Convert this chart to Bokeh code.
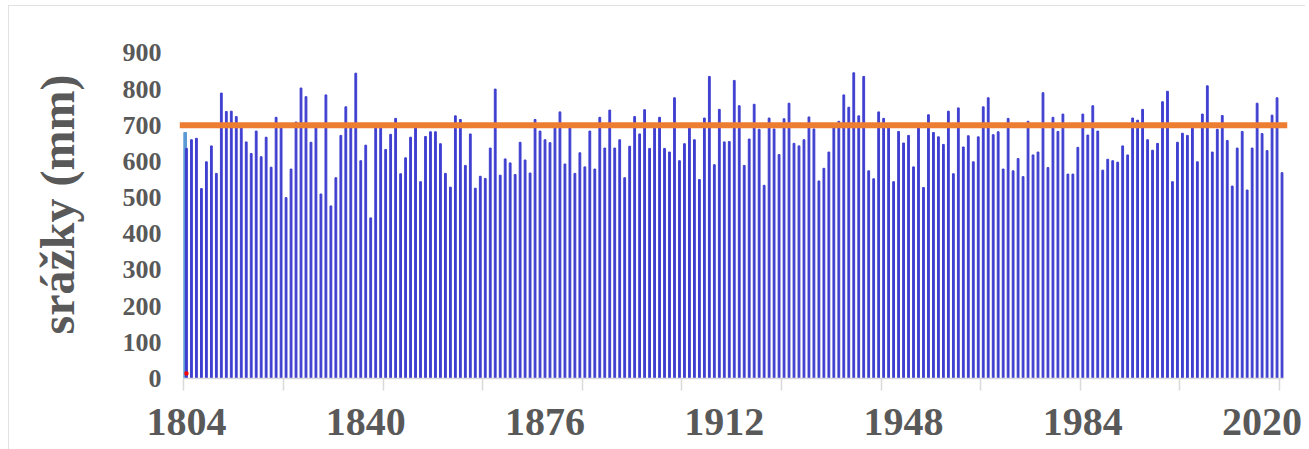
from bokeh.plotting import figure
from bokeh.models import Range1d, FixedTicker, Span, ColumnDataSource
from bokeh.embed import file_html
from bokeh.resources import INLINE

# ---- data ----
years = list(range(1804, 2025))
precip = [
    636, 660, 664, 525, 599, 643, 567, 789, 738, 739, 724, 702, 654, 622, 684, 613, 667, 584, 722,
    700, 500, 579, 709, 803, 779, 653, 700, 510, 784, 477, 555, 672, 751, 700, 844, 602, 645, 444, 700,
    700, 633, 675, 719, 566, 610, 667, 700, 544, 669, 682, 682, 649, 567, 529, 726, 716, 589, 676, 526, 559,
    553, 637, 800, 562, 607, 596, 564, 653, 604, 568, 716, 684, 660, 652, 700, 737, 593, 700, 567, 624,
    585, 684, 579, 722, 637, 742, 637, 660, 555, 642, 724, 676, 743, 636, 700, 722, 636, 626, 776, 602, 649,
    700, 660, 550, 720, 835, 591, 744, 654, 655, 824, 754, 589, 662, 758, 689, 534, 720, 690, 619, 718,
    761, 650, 643, 660, 723, 690, 546, 581, 626, 700, 711, 784, 750, 845, 726, 835, 574, 552, 737, 719, 700,
    544, 683, 651, 672, 585, 700, 528, 729, 680, 668, 647, 739, 566, 748, 640, 671, 599, 668, 751, 776,
    674, 682, 579, 719, 574, 608, 558, 711, 618, 626, 790, 583, 722, 683, 731, 565, 565, 639, 731, 673, 754,
    684, 576, 606, 602, 598, 643, 618, 720, 714, 744, 660, 631, 650, 765, 794, 544, 653, 678, 672, 700,
    599, 731, 809, 626, 689, 727, 658, 532, 637, 683, 521, 637, 761, 677, 630, 728, 776, 569,
]
first_bar_value = [680]   # light-blue bar at the first year
marker_value = [14]       # small red marker at the first year
mean_value = 700
x_tick_labels = [1804, 1840, 1876, 1912, 1948, 1984, 2020]
y_ticks = [0, 100, 200, 300, 400, 500, 600, 700, 800, 900]
y_title = "srážky (mm)"

FONT = "Liberation Serif"
GREY = "#595959"

p = figure(width=1297, height=444, output_backend="svg", toolbar_location=None,
           x_range=Range1d(1802.6, 2025.1), y_range=Range1d(0, 962),
           min_border_left=171, min_border_right=18, min_border_top=25, min_border_bottom=71)
p.styles = {"margin-left": "8px", "margin-top": "5px",
            "outline": "1px solid #d9d9d9", "outline-offset": "-1px"}
p.background_fill_color = "white"
p.border_fill_color = "white"
p.outline_line_color = None
p.grid.visible = False

# light blue first bar
p.vbar(x=[years[0] - 0.26], top=first_bar_value, width=0.54, color="#5b9bd5")
# yearly bars
src = ColumnDataSource(dict(x=years, top=precip))
p.vbar(x="x", top="top", source=src, width=0.36, color="#3f3fd0")
# red marker
p.scatter(x=[years[0]], y=marker_value, marker="square", size=3, color="#ff0000")
# mean line
p.add_layout(Span(location=mean_value, dimension="width", line_color="#ed7d31", line_width=6))

# x axis
xa = p.xaxis[0]
minor = [years[0] - 0.5 + 20 * k for k in range(12)]
xa.ticker = FixedTicker(ticks=x_tick_labels, minor_ticks=minor)
xa.bounds = (years[0] - 0.6, years[-1] + 0.3)
xa.axis_line_color = "#d9d9d9"
xa.axis_line_width = 1.5
xa.major_tick_out = 0
xa.major_tick_in = 0
xa.minor_tick_out = 12
xa.minor_tick_in = 0
xa.minor_tick_line_color = "#d9d9d9"
xa.minor_tick_line_width = 1.5
xa.major_label_text_font = FONT
xa.major_label_text_font_style = "bold"
xa.major_label_text_font_size = "40px"
xa.major_label_text_color = GREY
xa.major_label_standoff = 18

# y axis
ya = p.yaxis[0]
ya.ticker = FixedTicker(ticks=y_ticks)
ya.axis_line_color = None
ya.major_tick_line_color = None
ya.minor_tick_line_color = None
ya.major_tick_out = 0
ya.major_label_text_font = FONT
ya.major_label_text_font_style = "bold"
ya.major_label_text_font_size = "26px"
ya.major_label_text_color = GREY
ya.major_label_standoff = 18
ya.axis_label = y_title
ya.axis_label_text_font = FONT
ya.axis_label_text_font_style = "bold"
ya.axis_label_text_font_size = "48px"
ya.axis_label_text_color = GREY
ya.axis_label_standoff = 36

open("out.html", "w").write(file_html(p, INLINE))
